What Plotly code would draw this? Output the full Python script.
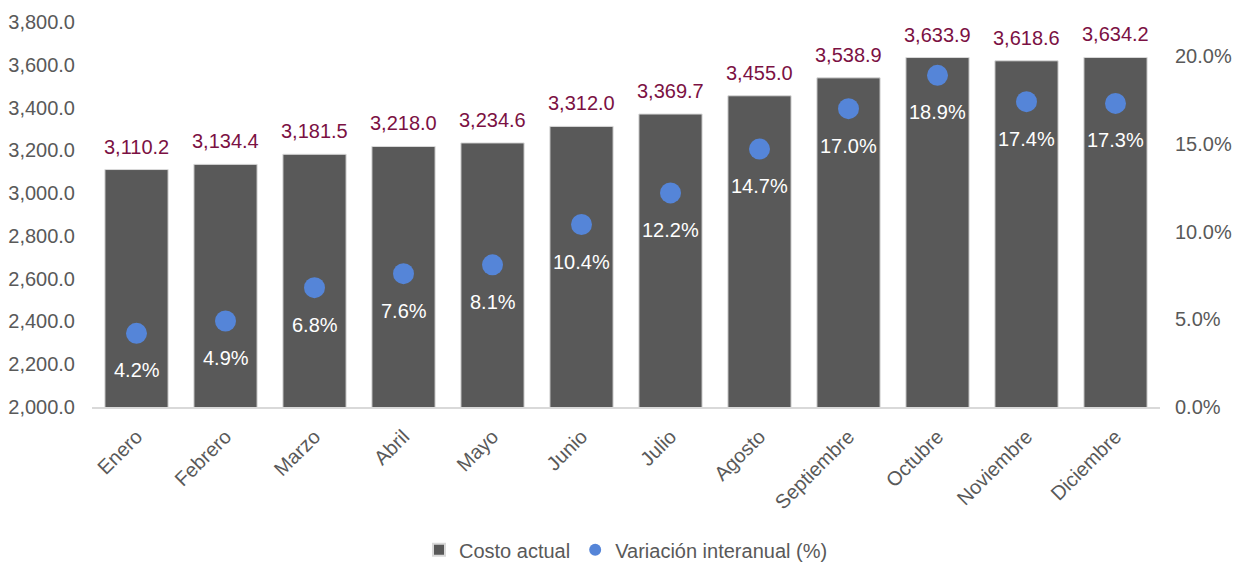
import plotly.graph_objects as go

meses = ["Enero", "Febrero", "Marzo", "Abril", "Mayo", "Junio", "Julio",
         "Agosto", "Septiembre", "Octubre", "Noviembre", "Diciembre"]
costo = [3110.2, 3134.4, 3181.5, 3218.0, 3234.6, 3312.0, 3369.7,
         3455.0, 3538.9, 3633.9, 3618.6, 3634.2]
variacion = [4.2, 4.9, 6.8, 7.6, 8.1, 10.4, 12.2, 14.7, 17.0, 18.9, 17.4, 17.3]

FONT = "Liberation Sans, Arial, sans-serif"
GRAY = "#595959"
FS = 20

fig = go.Figure()
fig.add_trace(go.Bar(
    x=meses, y=costo, name="Costo actual",
    marker=dict(color="#595959", line=dict(width=1, color="#D9D9D9")),
))
fig.add_trace(go.Scatter(
    x=meses, y=variacion, name="Variación interanual (%)", yaxis="y2",
    mode="markers",
    marker=dict(color="#5585D8", size=21),
    cliponaxis=False,
))

for m, v in zip(meses, costo):
    fig.add_annotation(x=m, y=v, xref="x", yref="y", text=f"{v:,.1f}",
                       showarrow=False, yshift=23, yanchor="middle",
                       font=dict(color="#7B1143", size=FS, family=FONT))
for m, v in zip(meses, variacion):
    fig.add_annotation(x=m, y=v, xref="x", yref="y2", text=f"{v:.1f}%",
                       showarrow=False, yshift=-37, yanchor="middle",
                       font=dict(color="white", size=FS, family=FONT))

fig.update_layout(
    width=1247, height=563,
    margin=dict(l=84, r=95, t=14, b=164, autoexpand=False),
    paper_bgcolor="white", plot_bgcolor="white",
    font=dict(family=FONT, size=FS, color=GRAY),
    bargap=0.29,
    showlegend=True,
    legend=dict(orientation="h", x=0.5, xanchor="center", y=-0.371, yanchor="middle",
                font=dict(size=FS, color=GRAY), itemsizing="constant"),
    xaxis=dict(range=[-0.5, 11.5], tickangle=-45, showgrid=False, showline=True,
               linecolor="#D9D9D9", linewidth=2, ticks="", automargin=False,
               ticklabelstandoff=8, tickfont=dict(size=FS, color=GRAY)),
    yaxis=dict(range=[2000, 3800], dtick=200, tickformat=",.1f", showgrid=False,
               zeroline=False, showline=False, ticks="", automargin=False,
               ticklabelstandoff=16, tickfont=dict(size=FS, color=GRAY)),
    yaxis2=dict(range=[0, 21.94], tickvals=[0, 5, 10, 15, 20],
                ticktext=["0.0%", "5.0%", "10.0%", "15.0%", "20.0%"],
                overlaying="y", side="right", showgrid=False, zeroline=False,
                showline=False, ticks="", automargin=False,
                ticklabelstandoff=14, tickfont=dict(size=FS, color=GRAY)),
)

fig.write_html("out.html")
